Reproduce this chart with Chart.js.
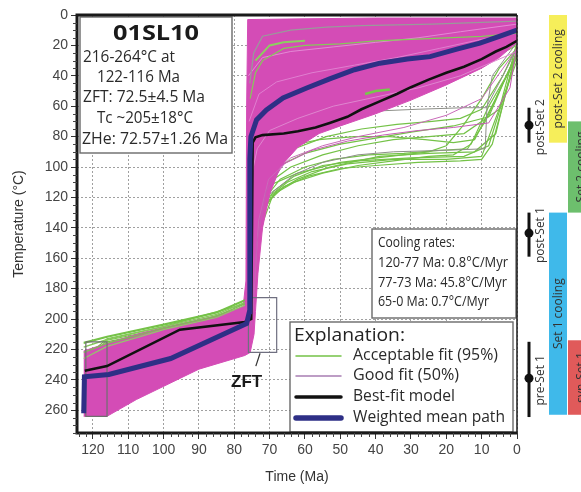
<!DOCTYPE html>
<html><head><meta charset="utf-8">
<script src="https://cdn.jsdelivr.net/npm/chart.js@4/dist/chart.umd.min.js"></script>
<style>html,body{margin:0;padding:0;background:#fff;}</style>
</head><body>
<canvas id="c" width="581" height="492"></canvas>
<script>
// ---------------- DATA ----------------
const xTickValues = [120,110,100,90,80,70,60,50,40,30,20,10,0];
const yTickValues = [0,20,40,60,80,100,120,140,160,180,200,220,240,260];

// weighted mean path (time Ma, temperature °C)
const meanTime = [122.6,122.4,115.5,98,76.5,75.7,75.6,75.3,73.7,70.9,66.2,59.5,53,46,38.8,31,24.6,17,10.5,5,0];
const meanTemp = [262,238,236.5,226,203,195,95,80,69,62.5,54.6,48,42,36,31.7,29,27.4,22.5,18.5,14,10];

// best-fit model
const bestTime = [122.3,116,95.4,77,75.2,74.8,74,72,66,62,57,53,48,44,39,34,30,25,20,15,10,6,3,0];
const bestTemp = [234,231,207,202,200,84,80.5,79,78,76.5,74,71,67,62,57,52,47.5,42.5,38,34,29,24,21,17];

// good-fit (50%) envelope outline
const goodEnvTime = [122.6,116,106,95,85,77.5,76.7,76.5,76.2,60,40,20,0,0,5,10,20,30,40,50,56,62,67,70,72,73.3,74,74.4,75.5,77,90,107.7,116,122.6];
const goodEnvTemp = [221,216,209,203,198,192,175,60,3,2.5,2,2,2,18,28,35,46,56,65,73,78,87,100,118,140,170,195,210,222,224,233,253,264,264];

// individual good-fit paths
const good1 = [[75.2,205],[73.6,150],[71,116],[66,98],[58,89],[48,83],[38,79],[28,76],[18,74],[8,71],[2,48],[0,20]];
const good2 = [[74.9,200],[73.1,135],[70.3,108],[64,94],[55,86],[45,80],[32,74],[20,66],[10,55],[0,22]];
const good3 = [[76,40],[72,28],[64,24],[52,21],[40,18],[28,15],[16,11],[0,6]];
const good4 = [[75.8,70],[73,52],[68,44],[58,38],[46,33],[34,28],[22,22],[10,16],[0,12]];
const good5 = [[75.5,110],[73.5,88],[70,76],[62,68],[52,60],[40,54],[28,48],[16,40],[6,30],[0,24]];

// acceptable-fit (95%) paths
const acc1 = [[122.6,216],[116,212],[100,204],[85,196],[77,188],[76,186],[75.2,140],[74.5,110],[73,95],[70,85],[62,75],[50,64],[38,55],[26,46],[14,36],[5,26],[0,20]];
const acc2 = [[122,228],[116,214],[95,204],[77,194],[75,200],[74,182],[72.8,150],[71.2,126],[68,116],[62,108],[53,100],[39,93],[25,91],[12,90],[6,78],[2,40],[0,22]];
const acc3 = [[122,245],[116,220],[100,210],[77,198],[74.8,192],[73.6,160],[72,132],[69,116],[63,106],[55,99],[45,96],[30,94],[15,93],[8,86],[0,26]];
const acc4 = [[122,250],[116,226],[90,209],[77,200],[74.6,188],[73.2,142],[70.5,120],[65,110],[58,103],[48,98],[35,95],[20,95],[10,93],[0,30]];
const acc5 = [[122,238],[116,215],[95,205],[77,192],[75,176],[73.9,150],[72.6,126],[70,110],[64,100],[55,92],[45,86],[35,82],[25,80],[15,78],[5,62],[0,18]];
const acc6 = [[122,225],[116,213],[100,205],[77,190],[75.2,162],[74.2,132],[72.3,112],[68,100],[60,91],[50,85],[40,81],[30,77],[18,73],[8,67],[0,24]];
const acc7 = [[122,232],[116,217],[100,207],[77,195],[74.9,185],[73.7,145],[71.8,122],[67,108],[60,100],[52,95],[42,92],[32,91],[22,89],[14,88],[9,70],[4,45],[0,28]];
const acc8 = [[122,258],[116,232],[100,216],[77,202],[74.7,196],[73.4,155],[71,124],[66,113],[59,106],[50,101],[40,99],[28,97],[16,96],[10,95],[7,85],[3,50],[0,24]];
const acc9 = [[74.4,180],[72.5,140],[69,118],[63,110],[55,104],[45,99],[35,96],[25,93],[18,92],[13,85],[8,60],[3,40],[0,26]];
const acc10 = [[75,170],[73.5,130],[70,112],[62,104],[50,97],[36,93],[25,90],[20,86],[15,72],[10,55],[5,35],[0,22]];
const acc11 = [[74.8,160],[73,120],[69.5,100],[63,88],[54,80],[44,75],[34,72],[24,70],[16,68],[10,62],[4,40],[0,20]];
const acc12 = [[75.1,150],[73.3,112],[70,95],[64,86],[56,82],[46,80],[36,80],[26,82],[18,84],[12,82],[6,55],[0,25]];
const accEdge1 = [[122.6,215.5],[116,211.5],[100,203.5],[85,195.5],[77,187.5]];
const accEdge2 = [[122.6,222],[116,216],[100,206],[85,198],[77,190]];
const accEdge3 = [[122.6,218.5],[116,213.5],[100,205],[85,197],[77,189]];
const accEdge4 = [[122.6,226],[116,218],[100,207],[85,199],[77,191]];
const accTop1 = [[75.5,55],[74,38],[72,30],[66,22],[60,20],[50,19],[40,17],[30,16],[20,15],[10,14],[0,12]];
const accTop2 = [[75.6,45],[74.5,25],[72,14],[64,10],[54,8],[44,7],[34,6.5],[24,6],[12,5],[0,4]];
const accTop3 = [[43,52],[40,50],[36,49]];
const accTop4 = [[74,30],[70,20],[66,18],[60,17]];
const otherPath1 = [[74.4,180],[72.8,140],[70,118],[63,105],[55,97],[45,92],[35,90],[20,89],[9,88],[8.5,60],[4,40],[0,22]];
const otherPath2 = [[75,150],[73.5,110],[70.5,92],[64,80],[56,72],[48,67],[38,63],[28,62],[15,61],[8.5,61],[7,40],[0,18]];

// constraint boxes [tMax, tMin, TempTop, TempBottom]
const boxStart = [122, 116, 215, 264];
const boxZFT = [76, 68, 186, 222];

// right-hand annotation (temperatures °C)
const setBarLabels = ['post-Set 2','post-Set 1','pre-Set 1'];
const setBarMid = [72.5, 143.5, 239];
const setBarLow = [61, 130, 215];
const setBarHigh = [84, 159, 264.5];
const phaseLabels = ['post-Set 2 cooling','Set 2 cooling','Set 1 cooling','syn-Set 1'];
const phaseTop = [0, 70, 130, 214];
const phaseBottom = [84, 130, 263, 263];
const phaseColors = ['#f6ee5a','#6dbf6d','#3fb9ea','#e05a5a'];
const phaseColumn = [0, 1, 0, 1];

const infoLines = ['216-264°C at','122-116 Ma','ZFT: 72.5±4.5 Ma','Tc ~205±18°C','ZHe: 72.57±1.26 Ma'];
const coolingLines = ['Cooling rates:','120-77 Ma: 0.8°C/Myr','77-73 Ma: 45.8°C/Myr','65-0 Ma: 0.7°C/Myr'];
const legendLabels = ['Acceptable fit (95%)','Good fit (50%)','Best-fit model','Weighted mean path'];

// ---------------- STYLE ----------------
const PINK = '#d44cb6', GREEN = '#74c247', NAVY = '#2e2f86', GRAY = '#8d8f88';
const pts = (tt, TT) => tt.map((t,i)=>({x:t,y:TT[i]}));
const pairs = a => a.map(p=>({x:p[0],y:p[1]}));
const boxPts = b => pairs([[b[0],b[2]],[b[1],b[2]],[b[1],b[3]],[b[0],b[3]],[b[0],b[2]]]);
function line(data, color, width, order, extra){
  return Object.assign({data, borderColor:color, borderWidth:width, pointRadius:0, fill:false, tension:0, order}, extra||{});
}

const datasets = [
  line(pts(meanTime,meanTemp), NAVY, 5, 0),
  line(pts(bestTime,bestTemp), '#111', 2.6, 1),
  line(boxPts(boxStart), '#6f6f6f', 1.2, 2),
  line(boxPts(boxZFT), '#6f6f80', 1.2, 2),
  line(pairs(accEdge1), GREEN, 1.6, 3),
  line(pairs(accEdge2), '#7fbf55', 1.4, 3),
  line(pairs(accEdge3), '#86c85a', 1.4, 3),
  line(pairs(accEdge4), '#93c66c', 1.2, 3),
  line(pairs(accTop1), '#86c95a', 1.2, 3),
  line(pairs(accTop2), '#9a9a9a', 1.2, 3),
  line(pairs(accTop3), '#78c84c', 2.5, 3),
  line(pairs(accTop4), '#8ccf60', 2, 3),
  line(pairs(good1), '#c65bb5', 1, 4),
  line(pairs(good2), '#c96ab9', 1, 4),
  line(pairs(good3), '#e48ad5', 1, 4),
  line(pairs(good4), '#e07fd0', 1, 4),
  line(pairs(good5), '#df86cf', 1, 4),
  line(pts(goodEnvTime,goodEnvTemp), PINK, 1, 5, {backgroundColor:PINK, fill:'shape'}),
  line(pairs(otherPath1), GRAY, 1, 6),
  line(pairs(otherPath2), GRAY, 1, 6),
];
[acc1,acc2,acc3,acc4,acc5,acc6,acc7,acc8,acc9,acc10,acc11,acc12].forEach(a=>datasets.push(line(pairs(a), GREEN, 1.2, 7)));

// ---------------- DRAW HELPERS ----------------
const FONT = "'Open Sans','Noto Sans',sans-serif";
// draw text at a given font size, horizontally condensed to the width
function fitText(ctx, s, x, y, w, size, weight, color, align){
  ctx.save();
  ctx.font = weight+' '+size+'px '+FONT;
  const m = ctx.measureText(s).width;
  const k = Math.max(0.7, Math.min(1.15, w/m));
  ctx.translate(x, y);
  ctx.scale(k, 1);
  ctx.fillStyle = color||'#2a2a2a';
  ctx.textAlign = align||'left';
  ctx.textBaseline = 'middle';
  ctx.fillText(s, 0, 0);
  ctx.restore();
}
function rotText(ctx, s, cx, cy, size, color){
  ctx.save();
  ctx.translate(cx, cy);
  ctx.rotate(-Math.PI/2);
  ctx.font = size+'px '+FONT;
  ctx.fillStyle = color||'#333';
  ctx.textAlign='center'; ctx.textBaseline='middle';
  ctx.fillText(s,0,0);
  ctx.restore();
}
function rect(ctx,x1,y1,x2,y2){
  ctx.fillStyle='#fff'; ctx.fillRect(x1,y1,x2-x1,y2-y1);
  ctx.strokeStyle='#6a6a6a'; ctx.lineWidth=1.4; ctx.strokeRect(x1,y1,x2-x1,y2-y1);
}

const overlay = {
  id:'overlay',
  afterDatasetsDraw(chart){
    const {ctx, chartArea:a, scales:{x,y}} = chart;
    ctx.save();
    // info box
    rect(ctx, 80, 17, 232, 153);
    fitText(ctx, '01SL10', 156, 34, 87, 22, 'bold', '#1a1a1a', 'center');
    const infoX = [83,97,83,97,82], infoY=[58,78,98,119,140], infoW=[92,83,122,96,146];
    infoLines.forEach((s,i)=>fitText(ctx, s, infoX[i], infoY[i], infoW[i], 15.5, 'normal'));
    // cooling rates box
    rect(ctx, 372, 229, 516, 318);
    const cw=[77,130,129,111], cy=[243,263,283,302];
    coolingLines.forEach((s,i)=>fitText(ctx, s, 378, cy[i], cw[i], 14, 'normal'));
    // legend box
    rect(ctx, 290, 322, 513, 432);
    fitText(ctx, 'Explanation:', 294, 336, 111, 17.5, 'normal', '#222');
    const ly=[356,376,397,418], lc=[GREEN,'#a87db2','#111',NAVY], lw=[1.5,1.5,3.5,5.5], tw=[145,106,102,152];
    legendLabels.forEach((s,i)=>{
      ctx.strokeStyle=lc[i]; ctx.lineWidth=lw[i]; ctx.lineCap='round';
      ctx.beginPath(); ctx.moveTo(296,ly[i]); ctx.lineTo(341,ly[i]); ctx.stroke();
      fitText(ctx, s, 353, ly[i], tw[i], 15.5, 'normal');
    });
    ctx.lineCap='butt';
    // ZFT label + leader
    ctx.strokeStyle='#333'; ctx.lineWidth=1.2;
    ctx.beginPath(); ctx.moveTo(x.getPixelForValue(72.7), y.getPixelForValue(222.5));
    ctx.lineTo(x.getPixelForValue(73.9), y.getPixelForValue(231)); ctx.stroke();
    ctx.font="bold 17px 'Liberation Sans',Arial,sans-serif"; ctx.fillStyle='#1a1a1a';
    ctx.textAlign='center'; ctx.textBaseline='middle';
    ctx.fillText('ZFT', x.getPixelForValue(76.5), y.getPixelForValue(241.5));
    // frame
    ctx.strokeStyle='#1a1a1a';
    ctx.lineWidth=3;
    ctx.beginPath();
    ctx.moveTo(a.right, a.top); ctx.lineTo(a.left, a.top); ctx.lineTo(a.left, a.bottom); ctx.lineTo(a.right, a.bottom);
    ctx.stroke();
    ctx.lineWidth=1.5;
    ctx.beginPath(); ctx.moveTo(a.right, a.top); ctx.lineTo(a.right, a.bottom); ctx.stroke();
    // minor ticks
    ctx.strokeStyle='#444'; ctx.lineWidth=1;
    for(let t=2;t<=124;t+=2){ if(t%10===0) continue; const px=Math.round(x.getPixelForValue(t))+0.5;
      ctx.beginPath(); ctx.moveTo(px,a.bottom); ctx.lineTo(px,a.bottom+4); ctx.stroke(); }
    for(let T=5;T<=275;T+=5){ if(T%20===0) continue; const py=Math.round(y.getPixelForValue(T))+0.5;
      ctx.beginPath(); ctx.moveTo(a.left,py); ctx.lineTo(a.left-4,py); ctx.stroke(); }
    // right annotation: set bars
    setBarLabels.forEach((s,i)=>{
      const px=529;
      ctx.strokeStyle='#111'; ctx.lineWidth=3;
      ctx.beginPath(); ctx.moveTo(px, y.getPixelForValue(setBarLow[i])); ctx.lineTo(px, y.getPixelForValue(setBarHigh[i])); ctx.stroke();
      ctx.fillStyle='#111'; ctx.beginPath(); ctx.arc(px, y.getPixelForValue(setBarMid[i]), 4.5, 0, Math.PI*2); ctx.fill();
      rotText(ctx, s, 541, y.getPixelForValue(setBarMid[i])+2, 12, '#333');
    });
    phaseLabels.forEach((s,i)=>{
      const x1 = phaseColumn[i]===0 ? 549 : 568;
      const x2 = phaseColumn[i]===0 ? 567 : 581;
      const y1 = y.getPixelForValue(phaseTop[i]), y2 = y.getPixelForValue(phaseBottom[i]);
      ctx.fillStyle = phaseColors[i]; ctx.fillRect(x1, y1, x2-x1, y2-y1);
      rotText(ctx, s, phaseColumn[i]===0 ? 558.5 : 582, (y1+y2)/2, 12, '#333');
    });
    ctx.restore();
  }
};

new Chart(document.getElementById('c'), {
  type:'line',
  data:{datasets},
  options:{
    responsive:false, animation:false, devicePixelRatio:1,
    layout:{padding:{top:15,right:64,left:0,bottom:0}},
    plugins:{legend:{display:false}, tooltip:{enabled:false}},
    elements:{point:{radius:0}},
    scales:{
      x:{type:'linear', min:0, max:124.5, reverse:true,
        afterBuildTicks:s=>{s.ticks = xTickValues.map(v=>({value:v}));},
        afterFit:s=>{s.height=59;},
        ticks:{color:'#444', font:{family:"'Liberation Sans',Arial,sans-serif", size:14}, padding:3, maxRotation:0, autoSkip:false},
        grid:{color:'#a0a0a0', lineWidth:1, tickLength:6, tickColor:'#333'},
        border:{display:false, dash:[2,2]},
        title:{display:true, text:'Time (Ma)', color:'#333', font:{family:"'Liberation Sans',Arial,sans-serif", size:14}, padding:{top:0,bottom:6}}
      },
      y:{type:'linear', min:0, max:275, reverse:true,
        afterBuildTicks:s=>{s.ticks = yTickValues.map(v=>({value:v}));},
        afterFit:s=>{s.width=77;},
        ticks:{color:'#444', font:{family:"'Liberation Sans',Arial,sans-serif", size:14}, padding:3, autoSkip:false},
        grid:{color:'#a0a0a0', lineWidth:1, tickLength:6, tickColor:'#333'},
        border:{display:false, dash:[2,2]},
        title:{display:true, text:'Temperature (°C)', color:'#333', font:{family:"'Liberation Sans',Arial,sans-serif", size:14}, padding:{top:11,bottom:0}}
      }
    }
  },
  plugins:[overlay]
});
</script>
</body></html>
